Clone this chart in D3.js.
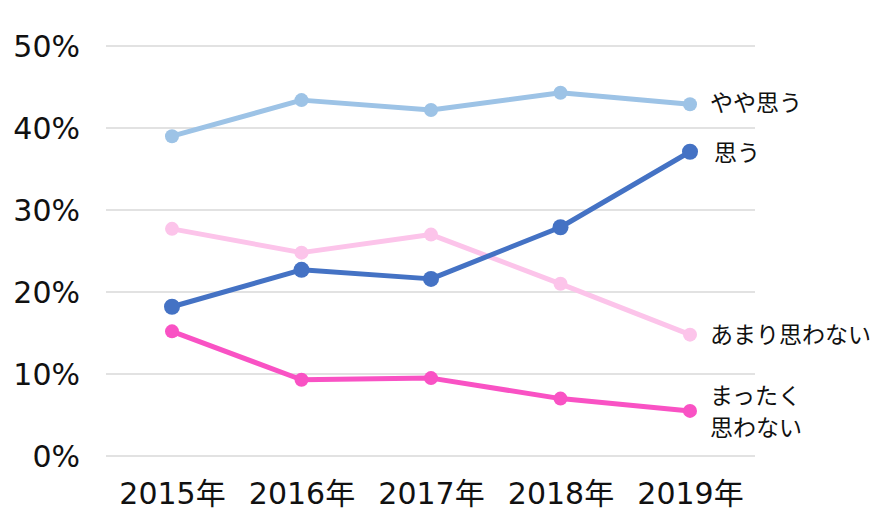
<!DOCTYPE html>
<html><head><meta charset="utf-8">
<script src="https://cdn.jsdelivr.net/npm/d3@7"></script>
<style>body{margin:0;background:#fff}svg{display:block}</style>
</head><body>
<svg id="c" width="895" height="527"></svg>
<script>
const years = ["2015年","2016年","2017年","2018年","2019年"];
const yTicks = [0,10,20,30,40,50];
const yayaOmou = [39.0,43.4,42.2,44.3,42.9];
const omou = [18.2,22.7,21.6,27.9,37.1];
const amariOmowanai = [27.7,24.8,27.0,21.0,14.8];
const mattakuOmowanai = [15.2,9.3,9.5,7.0,5.5];
const seriesNames = ["やや思う","思う","あまり思わない","まったく\n思わない"];

const series = [
  {name: seriesNames[0], values: yayaOmou, color:"#9DC3E6", r:7, lx:710, ly:111},
  {name: seriesNames[2], values: amariOmowanai, color:"#FCC4EA", r:7, lx:710, ly:343},
  {name: seriesNames[3], values: mattakuOmowanai, color:"#F952C4", r:7, lx:710, ly:404},
  {name: seriesNames[1], values: omou, color:"#4472C4", r:8, lx:714, ly:161},
];

const svg = d3.select("#c");
const tickFont = "'DejaVu Sans','Noto Sans CJK JP',sans-serif";
const labelFont = "'Noto Sans CJK JP','Noto Sans',sans-serif";
const x = d3.scalePoint().domain(years).range([172, 690]);
const y = d3.scaleLinear().domain([0,50]).range([456, 46]);

const grid = svg.append("g");
grid.selectAll("line").data(yTicks).join("line")
  .attr("x1",106).attr("x2",755)
  .attr("y1",d=>y(d)).attr("y2",d=>y(d))
  .attr("stroke","#d9d9d9").attr("stroke-width",1.5);

const yAxis = d3.axisLeft(y).tickValues(yTicks).tickFormat(d=>d+"%").tickSize(0).tickPadding(0);
const ya = svg.append("g").attr("transform","translate(80,0)").call(yAxis);
ya.select(".domain").remove();
ya.selectAll("text").attr("font-family",tickFont).attr("font-size",30).attr("fill","#111").attr("dy","0.36em");

const xAxis = d3.axisBottom(x).tickSize(0).tickPadding(0);
const xa = svg.append("g").attr("transform","translate(0,475)").call(xAxis);
xa.select(".domain").remove();
xa.selectAll("text").attr("font-family",tickFont).attr("font-size",30).attr("fill","#111").attr("y",29).attr("dy",0);

const line = d3.line().x((d,i)=>x(years[i])).y(d=>y(d));
series.forEach(s=>{
  const g = svg.append("g");
  g.append("path").attr("d",line(s.values)).attr("fill","none")
    .attr("stroke",s.color).attr("stroke-width",5).attr("stroke-linejoin","round");
  g.selectAll("circle").data(s.values).join("circle")
    .attr("cx",(d,i)=>x(years[i])).attr("cy",d=>y(d)).attr("r",s.r).attr("fill",s.color);
  const t = g.append("text").attr("x",s.lx).attr("y",s.ly)
    .attr("font-family",labelFont).attr("font-size",23).attr("fill","#111");
  s.name.split("\n").forEach((ln,i)=>{
    t.append("tspan").attr("x",s.lx).attr("dy",i?32:0).text(ln);
  });
});
</script>
</body></html>
